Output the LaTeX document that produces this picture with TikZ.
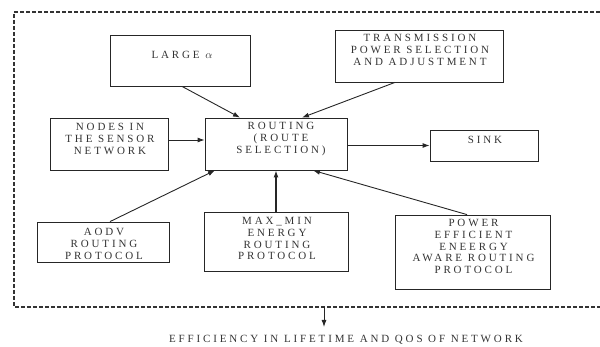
\documentclass[tikz,border=0pt]{standalone}
\usepackage{fontspec}
\setmainfont{Liberation Serif}[LetterSpace=26]
\usetikzlibrary{calc,arrows.meta}
\definecolor{ink}{gray}{0.2}
\tikzset{
  box/.style={draw=black!85, line width=0.8pt, inner sep=0pt, fill=none},
  txt/.style={inner sep=0pt, anchor=north, align=center, text=ink,
    font=\fontsize{11pt}{11.8pt}\selectfont},
  arr/.style={draw=black!85, line width=0.9pt, -{Latex[length=7pt,width=5pt]}},
  frame/.style={draw=black!80, line width=1.1pt, dash pattern=on 4pt off 2pt}
}
\begin{document}
\begin{tikzpicture}[x=1pt,y=-1pt]
\useasboundingbox (0,0) rectangle (600,347);
% outer dashed frame
\coordinate (f1) at (600,12);
\coordinate (f2) at (14,12);
\coordinate (f3) at (14,307);
\coordinate (f4) at (600,307);
\draw[frame] (f1) -- (f2) -- (f3) -- (f4);
% boxes
\node[box, minimum width=140pt, minimum height=51pt] (alpha) at (180,60.5) {};
\node[box, minimum width=168pt, minimum height=52pt] (trans) at (419,56) {};
\node[box, minimum width=118pt, minimum height=52pt] (nodes) at (109,144) {};
\node[box, minimum width=142pt, minimum height=52pt] (routing) at (276,144) {};
\node[box, minimum width=108pt, minimum height=31pt] (sink) at (484,145.5) {};
\node[box, minimum width=132pt, minimum height=40pt] (aodv) at (103,242) {};
\node[box, minimum width=144pt, minimum height=59pt] (maxmin) at (276,241.5) {};
\node[box, minimum width=155pt, minimum height=74pt] (power) at (472.5,252) {};
% texts
\node[txt] (talpha) at (182,51.5) {LARGE $\alpha$};
\node[txt] (ttrans) at (420,34) {TRANSMISSION\\POWER SELECTION\\AND ADJUSTMENT};
\node[txt] (tnodes) at (110,123) {NODES IN\\THE SENSOR\\NETWORK};
\node[txt] (trouting) at (281,122) {ROUTING\\(ROUTE\\SELECTION)};
\node[txt] (tsink) at (485,136) {SINK};
\node[txt] (taodv) at (104,228) {AODV\\ROUTING\\PROTOCOL};
\node[txt] (tmaxmin) at (277,217) {MAX\_MIN\\ENERGY\\ROUTING\\PROTOCOL};
\node[txt] (tpower) at (473.5,219) {POWER\\EFFICIENT\\ENEERGY\\AWARE ROUTING\\PROTOCOL};
\node[txt] (teff) at (346,335) {EFFICIENCY IN LIFETIME AND QOS OF NETWORK};
% arrows
\draw[arr] ($(alpha.south)+(2,0)$) -- ($(routing.north)+(-36,0)$);
\draw[arr] ($(trans.south)+(-24,0)$) -- ($(routing.north)+(26,0)$);
\draw[arr] ($(nodes.east)+(0,-4)$) -- ($(routing.west)+(0,-4)$);
\draw[arr] (routing.east |- sink.west) -- (sink.west);
\draw[arr] ($(aodv.north)+(7,0)$) -- ($(routing.south)+(-61,0)$);
\draw[arr, line width=1.5pt] (maxmin.north) -- (routing.south);
\draw[arr] ($(power.north)+(-5.5,0)$) -- ($(routing.south)+(37,0)$);
\coordinate (fb) at (324,307);
\coordinate (fe) at (324,327);
\draw[arr] (fb) -- (fe);
\end{tikzpicture}
\end{document}
